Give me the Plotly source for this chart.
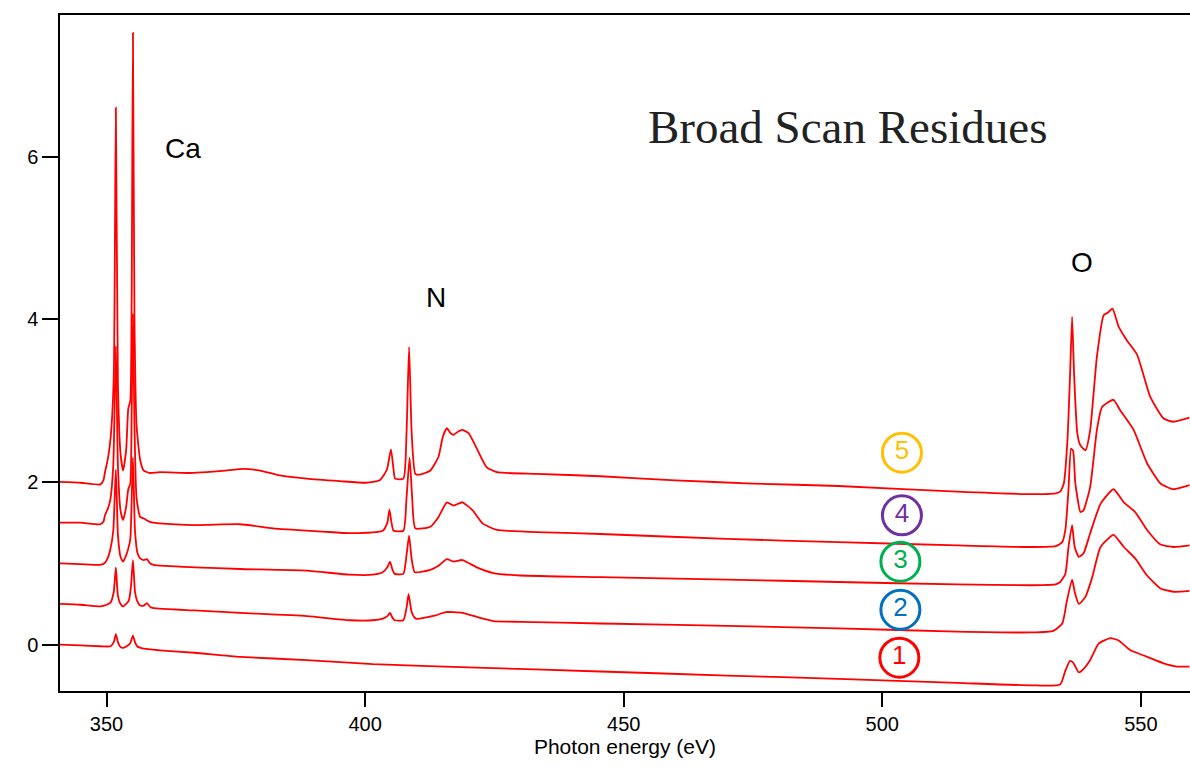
import plotly.graph_objects as go

# ---- data (photon energy eV, intensity) ----
s1_x = [341, 345, 348.8, 350.8, 351.4, 351.8, 352.2, 352.7, 353.2, 353.9, 354.6, 355.1, 355.5, 355.9,
        357.2, 360.3, 367, 375.8, 388.7, 401.5, 420, 445.5, 470, 491.5, 514.5, 528.6, 534.4, 535.4,
        536.3, 536.9, 538.0, 538.9, 540.2, 541.8, 544.1, 545.7, 548.0, 551.2, 554.4, 557.0, 559.4]
s1_y = [0.00, -0.01, -0.02, -0.02, 0.03, 0.13, 0.03, -0.03, -0.04, -0.02, 0.02, 0.11, 0.03, -0.02,
        -0.05, -0.07, -0.10, -0.15, -0.19, -0.24, -0.28, -0.33, -0.38, -0.42, -0.47, -0.50, -0.49, -0.32,
        -0.20, -0.22, -0.34, -0.30, -0.19, 0.01, 0.08, 0.05, -0.07, -0.15, -0.23, -0.27, -0.27]

s2_x = [341, 345, 348.8, 350.0, 350.8, 351.4, 351.8, 352.2, 352.7, 353.2, 353.8, 354.3, 354.7, 355.1,
        355.5, 355.9, 356.5, 357.2, 357.8, 358.5, 359.1, 367, 375.8, 388.7, 397.0, 401.5, 403.4, 404.3,
        404.8, 405.3, 405.7, 407.4, 408.0, 408.4, 409.0, 409.8, 413.6, 415.6, 418.8, 421.6, 424.8, 430,
        445.5, 470, 491.5, 514.5, 528.6, 533.1, 534.8, 535.7, 536.7, 537.2, 538.0, 539.3, 540.6, 542.2,
        544.7, 546.7, 548.9, 551.2, 553.8, 556.3, 559.4]
s2_y = [0.50, 0.49, 0.47, 0.49, 0.52, 0.65, 0.95, 0.60, 0.50, 0.47, 0.50, 0.54, 0.70, 1.04,
        0.65, 0.54, 0.48, 0.48, 0.51, 0.46, 0.45, 0.42, 0.39, 0.35, 0.30, 0.30, 0.32, 0.35,
        0.39, 0.33, 0.30, 0.30, 0.45, 0.62, 0.40, 0.32, 0.36, 0.40, 0.39, 0.34, 0.29, 0.28,
        0.26, 0.23, 0.20, 0.16, 0.15, 0.17, 0.26, 0.54, 0.80, 0.65, 0.50, 0.59, 0.83, 1.20,
        1.35, 1.20, 1.06, 0.85, 0.69, 0.65, 0.66]

s3_x = [341, 345, 348.8, 349.6, 350.2, 350.7, 351.3, 351.8, 352.2, 352.7, 353.2, 353.8, 354.2, 354.6,
        355.1, 355.5, 356.0, 356.5, 357.2, 357.8, 358.4, 359.1, 367, 375.8, 388.7, 397.0, 401.5, 403.4,
        404.3, 404.8, 405.3, 405.7, 407.4, 408.0, 408.5, 409.0, 409.6, 412.6, 414.2, 415.8, 417.1, 418.8,
        421.6, 424.8, 430, 445.5, 470, 491.5, 514.5, 528.6, 533.5, 534.4, 535.4, 536.0, 536.7, 537.2,
        538.0, 538.9, 540.2, 542.2, 544.7, 546.7, 548.9, 551.2, 553.8, 556.3, 559.4]
s3_y = [1.00, 0.99, 0.98, 1.00, 1.06, 1.16, 1.40, 2.15, 1.35, 1.08, 1.02, 1.10, 1.18, 1.30,
        2.30, 1.40, 1.12, 1.06, 1.04, 1.05, 1.00, 0.98, 0.95, 0.93, 0.91, 0.86, 0.86, 0.89,
        0.95, 1.02, 0.92, 0.87, 0.87, 1.10, 1.34, 1.05, 0.89, 0.92, 0.97, 1.05, 1.02, 1.04,
        0.95, 0.88, 0.85, 0.83, 0.80, 0.77, 0.74, 0.73, 0.74, 0.77, 0.87, 1.20, 1.47, 1.20,
        1.08, 1.12, 1.37, 1.73, 1.91, 1.75, 1.63, 1.41, 1.23, 1.20, 1.22]

s4_x = [341, 345, 348.8, 349.4, 349.7, 350.3, 350.7, 351.3, 351.8, 352.2, 352.7, 353.2, 353.8, 354.2,
        354.6, 354.85, 355.1, 355.4, 355.8, 356.5, 357.2, 358.4, 360.3, 367.5, 375.8, 382.2, 391.9, 397.0,
        403.4, 404.3, 404.7, 405.1, 405.5, 407.4, 408.0, 408.6, 409.1, 409.7, 412.6, 414.2, 415.8, 417.1,
        418.8, 420.8, 422.7, 425.5, 435, 445.5, 470, 491.5, 514.5, 528.6, 533.5, 534.8, 535.4, 536.0,
        536.5, 536.9, 537.3, 537.7, 538.3, 538.9, 540.2, 541.5, 542.5, 544.7, 546.0, 548.6, 551.2, 553.8,
        556.3, 559.4]
s4_y = [1.50, 1.50, 1.48, 1.51, 1.59, 1.68, 1.77, 2.20, 3.67, 2.20, 1.65, 1.53, 1.70, 1.91,
        1.98, 2.80, 4.06, 2.70, 1.80, 1.57, 1.55, 1.51, 1.49, 1.47, 1.48, 1.43, 1.39, 1.37,
        1.40, 1.50, 1.66, 1.50, 1.40, 1.40, 1.80, 2.30, 1.80, 1.43, 1.45, 1.57, 1.75, 1.71,
        1.75, 1.65, 1.49, 1.41, 1.38, 1.36, 1.30, 1.26, 1.22, 1.20, 1.21, 1.26, 1.41, 1.90,
        2.41, 2.38, 2.00, 1.82, 1.63, 1.65, 1.94, 2.64, 2.92, 3.01, 2.88, 2.64, 2.23, 1.98,
        1.91, 1.96]

s5_x = [341, 345, 348.8, 349.4, 349.7, 350.3, 350.8, 351.4, 351.8, 352.2, 352.7, 353.2, 353.8, 354.2,
        354.6, 354.85, 355.1, 355.4, 355.8, 356.5, 357.2, 358.4, 360.3, 366.2, 369.4, 373, 376.5, 379.7,
        383.5, 388.7, 395.1, 400.2, 402.8, 404.2, 405.0, 405.5, 405.8, 407.4, 408.0, 408.5, 409.0, 409.7,
        410.6, 412.6, 414.2, 415.0, 415.8, 416.5, 417.1, 418.0, 418.7, 420.0, 421.6, 423.5, 425.5, 433.2,
        445.5, 460, 475, 491.5, 514.5, 528.6, 533.5, 534.4, 535.1, 535.8, 536.3, 536.7, 537.1, 537.7,
        538.3, 539.3, 540.2, 541.5, 542.8, 543.6, 544.5, 545.7, 547.3, 549.3, 551.8, 554.4, 556.3, 559.4]
s5_y = [2.00, 1.99, 1.97, 2.02, 2.12, 2.30, 2.55, 3.30, 6.60, 3.20, 2.35, 2.14, 2.40, 2.90,
        3.00, 4.20, 7.52, 4.00, 2.70, 2.27, 2.14, 2.11, 2.12, 2.11, 2.12, 2.14, 2.16, 2.14,
        2.08, 2.04, 2.01, 1.99, 2.02, 2.15, 2.40, 2.15, 2.04, 2.04, 2.60, 3.66, 2.60, 2.10,
        2.09, 2.14, 2.31, 2.55, 2.66, 2.60, 2.58, 2.62, 2.64, 2.60, 2.41, 2.18, 2.12, 2.10,
        2.07, 2.02, 1.98, 1.95, 1.88, 1.85, 1.86, 1.88, 1.98, 2.51, 3.30, 4.03, 3.30, 2.60,
        2.45, 2.39, 2.64, 3.54, 4.05, 4.08, 4.13, 3.91, 3.74, 3.56, 3.05, 2.78, 2.74, 2.79]

series = [(s1_x, s1_y), (s2_x, s2_y), (s3_x, s3_y), (s4_x, s4_y), (s5_x, s5_y)]

label_text = ["1", "2", "3", "4", "5"]
label_x = [503.3, 503.5, 503.5, 503.8, 503.8]
label_y = [-0.16, 0.43, 1.02, 1.59, 2.36]
label_colors = ["#FF0000", "#0070C0", "#00B050", "#7030A0", "#FFC000"]

element_text = ["Ca", "N", "O"]
element_x = [364.8, 413.7, 538.7]
element_y = [6.10, 4.27, 4.70]

x_ticks = [350, 400, 450, 500, 550]
y_ticks = [0, 2, 4, 6]

fig = go.Figure()
for sx, sy in series:
    fig.add_trace(go.Scatter(x=sx, y=sy, mode="lines",
                             line=dict(color="#FF0000", width=1.8, shape="spline", smoothing=0.5),
                             showlegend=False, hoverinfo="skip"))

fig.add_trace(go.Scatter(
    x=label_x, y=label_y, mode="markers+text", text=label_text,
    textposition="middle center",
    textfont=dict(family="Liberation Sans, Arial", size=26, color=label_colors),
    marker=dict(symbol="circle-open", size=39, color=label_colors,
                line=dict(width=3, color=label_colors)),
    showlegend=False, hoverinfo="skip"))

for t, x, y in zip(element_text, element_x, element_y):
    fig.add_annotation(x=x, y=y, text=t, showarrow=False,
                       font=dict(family="Liberation Sans, Arial", size=28, color="black"),
                       xanchor="center", yanchor="middle")

fig.add_annotation(x=493.2, y=6.36, text="Broad Scan Residues", showarrow=False,
                   font=dict(family="Liberation Serif, Times New Roman", size=47, color="#222222"),
                   xanchor="center", yanchor="middle")

fig.update_layout(
    width=1190, height=769,
    margin=dict(l=60, r=0, t=15, b=78),
    plot_bgcolor="white", paper_bgcolor="white",
    font=dict(family="Liberation Sans, Arial", size=20, color="black"),
)
fig.update_xaxes(range=[341.0, 559.5], tickvals=x_ticks, ticks="outside", ticklen=14,
                 tickwidth=1.5, tickcolor="black", showline=True, linecolor="black",
                 linewidth=1.5, mirror=True, showgrid=False, zeroline=False,
                 title=dict(text="Photon energy (eV)", font=dict(size=21), standoff=4),
                 tickfont=dict(size=20))
fig.update_yaxes(range=[-0.57, 7.74], tickvals=y_ticks, ticks="outside", ticklen=16,
                 tickwidth=1.5, tickcolor="black", showline=True, linecolor="black",
                 linewidth=1.5, mirror=False, showgrid=False, zeroline=False,
                 tickfont=dict(size=20))

fig.write_html("out.html")
